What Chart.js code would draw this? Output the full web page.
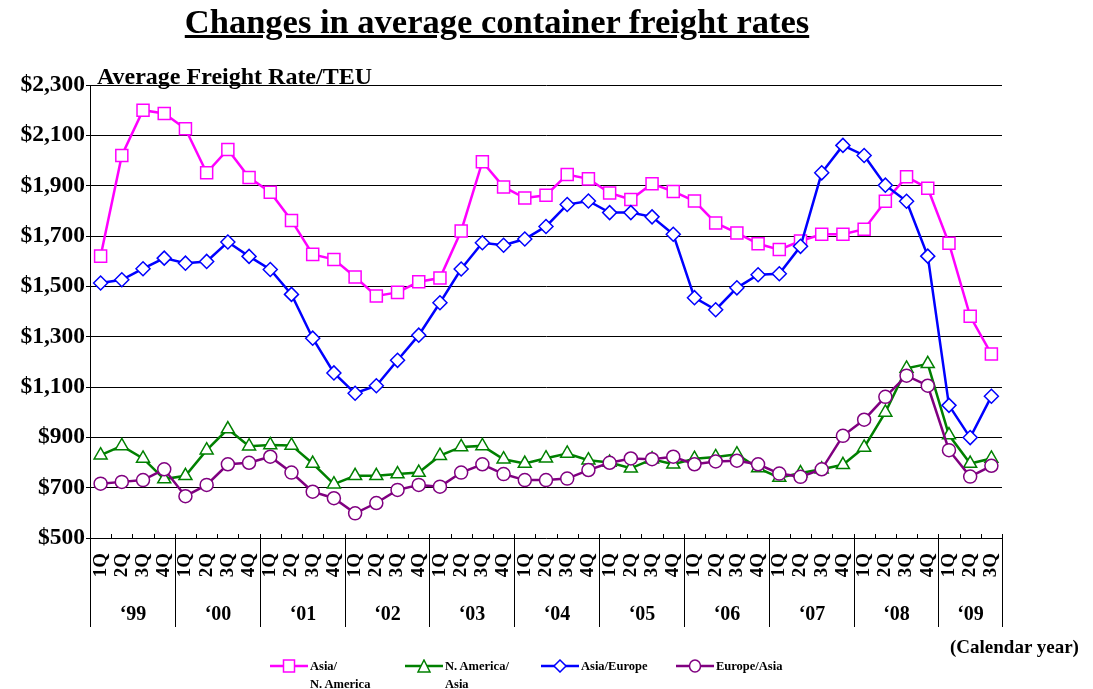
<!DOCTYPE html>
<html>
<head>
<meta charset="utf-8">
<script src="https://cdn.jsdelivr.net/npm/chart.js@4.4.1/dist/chart.umd.min.js"></script>
<style>
  body { margin: 0; background: #fff; font-family: 'Liberation Serif', 'Times New Roman', serif; font-weight: bold; color: #000; }
  #wrap { position: relative; width: 1093px; height: 689px; overflow: hidden; }
  #chart { position: absolute; left: 0; top: 0; }
  .abs { position: absolute; white-space: nowrap; }
  #title { left: 0; width: 994px; top: 2px; text-align: center; font-size: 34.5px; line-height: 38px; text-decoration: underline; }
  #ytitle { left: 97px; top: 63px; font-size: 24px; line-height: 26px; }
  #calyear { left: 950px; top: 636px; font-size: 19px; line-height: 22px; }
  .leg { position: absolute; top: 657px; font-size: 12.5px; line-height: 18px; white-space: nowrap; }
  .leg svg { position: absolute; left: 0; top: 2px; }
  .leg span { position: absolute; left: 40px; top: 0; white-space: nowrap; }
</style>
</head>
<body>
<div id="wrap">
  <canvas id="chart" width="1093" height="689"></canvas>
  <div id="title" class="abs">Changes in average container freight rates</div>
  <div id="ytitle" class="abs">Average Freight Rate/TEU</div>
  <div id="calyear" class="abs">(Calendar year)</div>
  <div id="legend"></div>
</div>
<script>
const years = ['‘99', '‘00', '‘01', '‘02', '‘03', '‘04', '‘05', '‘06', '‘07', '‘08', '‘09'];
const quartersPerYear = [4, 4, 4, 4, 4, 4, 4, 4, 4, 4, 3];
const quarterNames = ['1Q', '2Q', '3Q', '4Q'];

const asiaNorthAmerica = [1620, 2020, 2200, 2187, 2126, 1951, 2044, 1932, 1874, 1762, 1627, 1607, 1537, 1462, 1476, 1518,
  1533, 1720, 1995, 1895, 1851, 1862, 1944, 1927, 1871, 1845, 1908, 1877, 1839, 1752, 1712, 1669,
  1646, 1680, 1707, 1707, 1727, 1838, 1935, 1890, 1671, 1381, 1231];
const northAmericaAsia = [829, 866, 816, 734, 747, 849, 933, 865, 870, 868, 796, 714, 747, 747, 754, 760,
  827, 862, 866, 813, 796, 817, 836, 809, 800, 777, 813, 793, 815, 822, 833, 778,
  740, 758, 773, 791, 860, 999, 1174, 1192, 909, 796, 816];
const asiaEurope = [1513, 1526, 1570, 1612, 1592, 1599, 1676, 1619, 1567, 1468, 1294, 1156, 1075, 1105, 1206, 1306,
  1435, 1569, 1673, 1663, 1688, 1738, 1825, 1839, 1793, 1793, 1776, 1707, 1455, 1407, 1494, 1546,
  1550, 1659, 1951, 2060, 2020, 1902, 1838, 1620, 1027, 899, 1063];
const europeAsia = [716, 723, 730, 773, 666, 711, 793, 799, 823, 760, 684, 658, 598, 639, 691, 711,
  704, 760, 793, 754, 730, 730, 736, 770, 799, 816, 813, 823, 793, 804, 807, 793,
  756, 743, 773, 906, 970, 1061, 1145, 1105, 849, 744, 787];

const yTicks = [500, 700, 900, 1100, 1300, 1500, 1700, 1900, 2100, 2300];

// one category per quarter
const labels = [];
years.forEach((yr, i) => {
  for (let q = 0; q < quartersPerYear[i]; q++) labels.push(quarterNames[q]);
});

const series = [
  { name: ['Asia/', 'N. America'], data: asiaNorthAmerica, color: '#FF00FF', style: 'rect', radius: 8.5, order: 4, left: 270 },
  { name: ['N. America/', 'Asia'], data: northAmericaAsia, color: '#008000', style: 'triangle', radius: 7.5, order: 3, left: 405 },
  { name: ['Asia/Europe'], data: asiaEurope, color: '#0000FF', style: 'rectRot', radius: 7, order: 2, left: 541 },
  { name: ['Europe/Asia'], data: europeAsia, color: '#800080', style: 'circle', radius: 6.5, order: 1, left: 676 }
];

const serif = 'Liberation Serif';

const yearAxis = {
  id: 'yearAxis',
  afterDraw(chart) {
    const { ctx, scales: { x } } = chart;
    const base = chart.chartArea.bottom;
    const half = (x.getPixelForValue(1) - x.getPixelForValue(0)) / 2;
    const edge = i => Math.round(x.getPixelForValue(i) - half) + 0.5;
    ctx.save();
    ctx.strokeStyle = '#000';
    ctx.lineWidth = 1;
    ctx.beginPath();
    for (let i = 0; i <= labels.length; i++) {
      ctx.moveTo(edge(i), base - 4);
      ctx.lineTo(edge(i), base);
    }
    let start = 0;
    ctx.fillStyle = '#000';
    ctx.font = 'bold 20px ' + serif;
    ctx.textAlign = 'center';
    ctx.textBaseline = 'middle';
    years.forEach((yr, i) => {
      const end = start + quartersPerYear[i];
      ctx.moveTo(edge(start), base);
      ctx.lineTo(edge(start), base + 89);
      ctx.fillText(yr, (edge(start) + edge(end)) / 2, base + 77);
      start = end;
    });
    ctx.moveTo(edge(start), base);
    ctx.lineTo(edge(start), base + 89);
    ctx.stroke();
    ctx.restore();
  }
};

new Chart(document.getElementById('chart'), {
  type: 'line',
  data: {
    labels: labels,
    datasets: series.map(s => ({
      label: s.name.join(' '),
      data: s.data,
      order: s.order,
      borderColor: s.color,
      borderWidth: 2.5,
      tension: 0,
      pointStyle: s.style,
      pointRadius: s.radius,
      pointBackgroundColor: '#fff',
      pointBorderColor: s.color,
      pointBorderWidth: 1.5,
      clip: 12
    }))
  },
  options: {
    responsive: false,
    animation: false,
    devicePixelRatio: 1,
    layout: { padding: { top: 85, right: 91, left: 0, bottom: 0 } },
    plugins: { legend: { display: false }, tooltip: { enabled: false } },
    scales: {
      x: {
        offset: true,
        grid: { display: false, drawTicks: false },
        border: { display: false },
        ticks: {
          autoSkip: false,
          minRotation: 90,
          maxRotation: 90,
          padding: 15,
          color: '#000',
          font: { family: serif, size: 19, weight: 'bold' }
        },
        afterFit(s) { s.height = 151; }
      },
      y: {
        min: yTicks[0],
        max: yTicks[yTicks.length - 1],
        afterBuildTicks(s) { s.ticks = yTicks.map(v => ({ value: v })); },
        ticks: {
          padding: 1,
          color: '#000',
          font: { family: serif, size: 23.5, weight: 'bold' },
          callback: v => '$' + v.toLocaleString('en-US')
        },
        grid: { color: '#000', lineWidth: 1, tickLength: 4, tickColor: '#000' },
        border: { color: '#000', width: 1 },
        afterFit(s) { s.width = 90; }
      }
    }
  },
  plugins: [yearAxis]
});

// legend below the chart
const legend = document.getElementById('legend');
series.forEach(s => {
  const item = document.createElement('div');
  item.className = 'leg';
  item.style.left = s.left + 'px';
  let mark;
  if (s.style === 'rect') mark = '<rect x="13.5" y="1" width="11" height="12" fill="#fff" stroke="' + s.color + '" stroke-width="1.5"/>';
  else if (s.style === 'triangle') mark = '<polygon points="19,1 25,13 13,13" fill="#fff" stroke="' + s.color + '" stroke-width="1.5"/>';
  else if (s.style === 'rectRot') mark = '<polygon points="19,1 25,7 19,13 13,7" fill="#fff" stroke="' + s.color + '" stroke-width="1.5"/>';
  else mark = '<ellipse cx="19" cy="7" rx="5.5" ry="6" fill="#fff" stroke="' + s.color + '" stroke-width="1.5"/>';
  item.innerHTML = '<svg width="38" height="14"><line x1="0" y1="7" x2="38" y2="7" stroke="' + s.color + '" stroke-width="2.5"/>' + mark + '</svg>' +
    '<span>' + s.name.join('<br>') + '</span>';
  legend.appendChild(item);
});
</script>
</body>
</html>
